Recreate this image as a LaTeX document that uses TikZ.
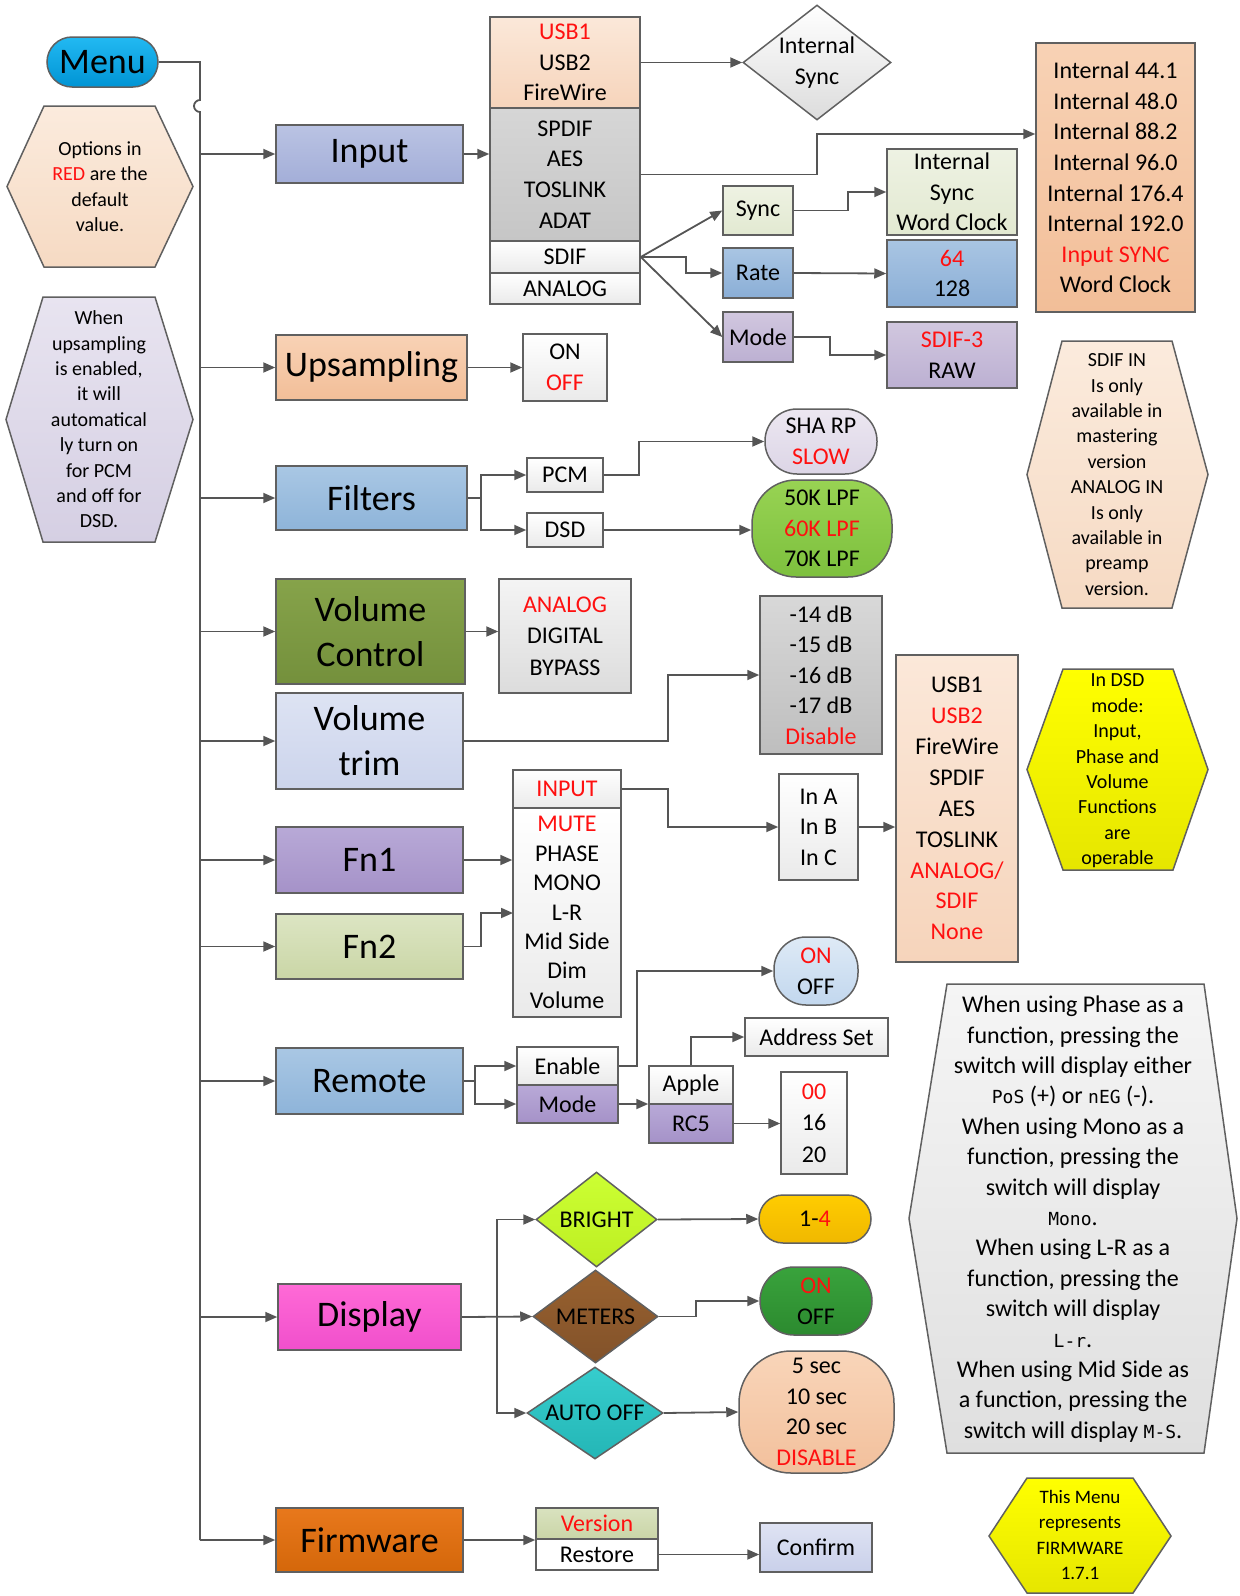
\documentclass[tikz,border=0pt]{standalone}
\usepackage{fontspec}
\setmainfont{Carlito}
\newfontfamily\segf{DejaVu Sans Mono}
\usetikzlibrary{fit,shapes.geometric,arrows.meta}
\definecolor{bordc}{HTML}{606060}
\definecolor{lc}{HTML}{555555}
\definecolor{redc}{HTML}{FF1010}
\definecolor{menuT}{HTML}{22B9F2}\definecolor{menuB}{HTML}{0094D4}
\definecolor{inT}{HTML}{BAC3E3}\definecolor{inB}{HTML}{A3AED8}
\definecolor{upT}{HTML}{F8D2B5}\definecolor{upB}{HTML}{F2BE98}
\definecolor{blT}{HTML}{A9C7E4}\definecolor{blB}{HTML}{8EB4D9}
\definecolor{vcT}{HTML}{86A34A}\definecolor{vcB}{HTML}{74903C}
\definecolor{vtT}{HTML}{DDE3F3}\definecolor{vtB}{HTML}{CCD4EC}
\definecolor{puT}{HTML}{B8A9D7}\definecolor{puB}{HTML}{A592C8}
\definecolor{olT}{HTML}{DCE5C3}\definecolor{olB}{HTML}{CAD6A6}
\definecolor{diT}{HTML}{FF6AD6}\definecolor{diB}{HTML}{F04FCC}
\definecolor{fwT}{HTML}{E8781C}\definecolor{fwB}{HTML}{D4670A}
\definecolor{pkT}{HTML}{FBE8D9}\definecolor{pkB}{HTML}{F6D4BB}
\definecolor{grT}{HTML}{D6D6D6}\definecolor{grB}{HTML}{C6C6C6}
\definecolor{whT}{HTML}{FFFFFF}\definecolor{whB}{HTML}{EAEAEA}
\definecolor{gnT}{HTML}{EEF2E3}\definecolor{gnB}{HTML}{E2E9D1}
\definecolor{rbT}{HTML}{A9C5E3}\definecolor{rbB}{HTML}{8AAED6}
\definecolor{mdT}{HTML}{D1C7DF}\definecolor{mdB}{HTML}{BCB0D2}
\definecolor{shT}{HTML}{ECE7F1}\definecolor{shB}{HTML}{DCD5E6}
\definecolor{lpT}{HTML}{98D353}\definecolor{lpB}{HTML}{7DC03E}
\definecolor{lgT}{HTML}{F4F4F4}\definecolor{lgB}{HTML}{DCDCDC}
\definecolor{dbT}{HTML}{D8D8D8}\definecolor{dbB}{HTML}{BEBEBE}
\definecolor{ywT}{HTML}{FFFF00}\definecolor{ywB}{HTML}{E6E600}
\definecolor{obT}{HTML}{DEEAF6}\definecolor{obB}{HTML}{C2D7EE}
\definecolor{brT}{HTML}{CCFF33}\definecolor{brB}{HTML}{BDEE22}
\definecolor{meT}{HTML}{98612F}\definecolor{meB}{HTML}{82522A}
\definecolor{auT}{HTML}{36CDCD}\definecolor{auB}{HTML}{24B6B6}
\definecolor{goT}{HTML}{FFCC00}\definecolor{goB}{HTML}{F0B800}
\definecolor{dgT}{HTML}{39A33C}\definecolor{dgB}{HTML}{2C8A2F}
\definecolor{pcT}{HTML}{F9D5B9}\definecolor{pcB}{HTML}{F2C09C}
\definecolor{vsT}{HTML}{D9E2BF}\definecolor{vsB}{HTML}{CAD5A7}
\definecolor{cfT}{HTML}{DFE3F3}\definecolor{cfB}{HTML}{C9D0EA}
\definecolor{ohT}{HTML}{FBEBDD}\definecolor{ohB}{HTML}{F6DAC3}
\definecolor{uhT}{HTML}{E8E4F0}\definecolor{uhB}{HTML}{D5CFE3}
\definecolor{ghT}{HTML}{F5F5F5}\definecolor{ghB}{HTML}{DFDFDF}
\newcommand\rtx[1]{\textcolor{redc}{#1}}
\newcommand\sego[1]{{\fontsize{9}{15.2}\selectfont\segf #1}}
% box node: #1 shape options, #2 name, #3 corner, #4 corner, #5 font style, #6 text
\newcommand\bxn[6]{\node[bx,fit={(#3)(#4)},#1] (#2) {};
  \node[txt,#5] (#2t) at (#2.center) {#6};}
\begin{document}
\begin{tikzpicture}[x=0.5pt,y=-0.5pt,
  bx/.style={draw=bordc, line width=0.75pt, inner sep=0pt},
  mainf/.style={font=\fontsize{18}{22.5}\selectfont},
  subf/.style={font=\fontsize{12}{15.3}\selectfont},
  notef/.style={font=\fontsize{10}{12.7}\selectfont},
  txt/.style={align=center, inner sep=0pt, text=black},
  sh/.style 2 args={top color=#1, bottom color=#2},
  conn/.style={draw=lc, line width=0.9pt},
  arr/.style={conn, -{Triangle[length=6pt,width=5pt]}},
  hexs/.style={draw=bordc, line width=0.75pt}
]
\useasboundingbox (0,0) rectangle (1239,1596);
% ---------- main column ----------
\bxn{rounded corners=12.5pt,sh={menuT}{menuB}}{menu}{47,37}{158,87}{mainf}{Menu}
\bxn{sh={inT}{inB}}{input}{276,125}{463,183}{mainf}{Input}
\bxn{sh={upT}{upB}}{upsamp}{276,335}{467,400}{mainf}{Upsampling}
\bxn{sh={blT}{blB}}{filters}{276,466}{467,530}{mainf}{Filters}
\bxn{sh={vcT}{vcB}}{volctl}{276,579}{465,684}{mainf}{Volume\\Control}
\bxn{sh={vtT}{vtB}}{voltrim}{276,693}{463,789}{mainf}{Volume\\trim}
\bxn{sh={puT}{puB}}{fn1}{276,827}{463,893}{mainf}{Fn1}
\bxn{sh={olT}{olB}}{fn2}{276,914}{463,979}{mainf}{Fn2}
\bxn{sh={blT}{blB}}{remote}{276,1048}{463,1114}{mainf}{Remote}
\bxn{sh={diT}{diB}}{display}{278,1284}{461,1350}{mainf}{Display}
\bxn{sh={fwT}{fwB}}{firmware}{276,1508}{463,1572}{mainf}{Firmware}
% ---------- left notes ----------
\draw[hexs,sh={ohT}{ohB}] (44,106) -- (155,106) -- (193,186.5) -- (155,267) -- (44,267) -- (7,186.5) -- cycle;
\node[txt,notef] (note1) at (100,186.5) {Options in\\\rtx{RED} are the\\default\\value.};
\draw[hexs,sh={uhT}{uhB}] (43,297) -- (155,297) -- (193,419.5) -- (155,542) -- (43,542) -- (6,419.5) -- cycle;
\node[txt,notef] (note2) at (99,419.5) {When\\upsampling\\is enabled,\\it will\\automatical\\ly turn on\\for PCM\\and off for\\DSD.};
% ---------- trunk ----------
\coordinate (trunk) at (200,62);
\draw[conn] (menu.east) -- (trunk) -- (200,100) arc[start angle=90,end angle=270,radius=3pt] -- (firmware.west -| trunk);
\draw[arr] (firmware.west -| trunk) -- (firmware.west);
\foreach \n in {input,upsamp,filters,volctl,voltrim,fn1,fn2,remote,display}
  \draw[arr] (\n.west -| trunk) -- (\n.west);
% ---------- input ----------
\bxn{sh={pkT}{pkB}}{ist1}{490,17}{640,108}{subf}{\rtx{USB1}\\USB2\\FireWire}
\bxn{sh={grT}{grB}}{ist2}{490,108}{640,241}{subf}{SPDIF\\AES\\TOSLINK\\ADAT}
\bxn{sh={whT}{whB}}{ist3}{490,241}{640,273}{subf}{SDIF}
\bxn{sh={whT}{whB}}{ist4}{490,273}{640,304}{subf}{ANALOG}
\node[bx,diamond,minimum width=74pt,minimum height=57.5pt,sh={whT}{lgB}] (isync) at (817,62.5) {};
\node[txt,subf] (isynct) at (isync.center) {Internal\\Sync};
\bxn{sh={upT}{upB}}{rates}{1036,43}{1195,312}{subf}{Internal 44.1\\Internal 48.0\\Internal 88.2\\Internal 96.0\\Internal 176.4\\Internal 192.0\\\rtx{Input SYNC}\\Word Clock}
\bxn{sh={gnT}{gnB}}{sync}{723,186}{793,235}{subf}{Sync}
\bxn{sh={rbT}{rbB}}{rate}{723,248}{793,298}{subf}{Rate}
\bxn{sh={mdT}{mdB}}{mode}{723,312}{793,362}{subf}{Mode}
\bxn{sh={gnT}{gnB}}{iswc}{887,149}{1017,235}{subf}{Internal\\Sync\\Word Clock}
\bxn{sh={rbT}{rbB}}{r64}{887,240}{1017,307}{subf}{\rtx{64}\\128}
\bxn{sh={mdT}{mdB}}{sdif3}{887,322}{1017,388}{subf}{\rtx{SDIF-3}\\RAW}
\draw[arr] (input.east) -- (input.east -| ist2.west);
\draw[arr] (ist1.east) -- (isync.west);
\coordinate (c1) at (817,134);
\draw[arr] (ist2.east) -| (c1) -- (c1 -| rates.west);
\draw[arr] (ist3.east) -- (sync.west);
\draw[arr] (ist3.east) -- (686,257) |- (rate.west);
\draw[arr] (ist3.east) -- (mode.west);
\draw[arr] (sync.east) -- (848,210.5) |- (iswc.west);
\draw[arr] (rate.east) -- (r64.west);
\draw[arr] (mode.east) -- (830,337) |- (sdif3.west);
% ---------- upsampling / filters ----------
\bxn{sh={whT}{whB}}{onoff1}{523,334}{607,401}{subf}{ON\\\rtx{OFF}}
\draw[arr] (upsamp.east) -- (onoff1.west);
\bxn{sh={whT}{whB}}{pcm}{527,458}{603,492}{subf}{PCM}
\bxn{sh={whT}{whB}}{dsd}{527,513}{603,547}{subf}{DSD}
\bxn{rounded corners=16pt,sh={shT}{shB}}{sha}{765,409}{877,474}{subf}{SHA RP\\\rtx{SLOW}}
\bxn{rounded corners=22pt,sh={lpT}{lpB}}{lpf}{752,480}{892,577}{subf}{50K LPF\\\rtx{60K LPF}\\70K LPF}
\coordinate (fsplit) at (481,498);
\draw[conn] (filters.east) -- (fsplit);
\draw[arr] (fsplit) |- (pcm.west);
\draw[arr] (fsplit) |- (dsd.west);
\draw[arr] (pcm.east) -- (639,475) |- (sha.west);
\draw[arr] (dsd.east) -- (dsd.east -| lpf.west);
% ---------- SDIF note ----------
\draw[hexs,sh={ohT}{ohB}] (1062,341) -- (1172,341) -- (1208,474.5) -- (1172,608) -- (1062,608) -- (1027,474.5) -- cycle;
\node[txt,notef] (note3) at (1117,474.5) {SDIF IN\\Is only\\available in\\mastering\\version\\ANALOG IN\\Is only\\available in\\preamp\\version.};
% ---------- volume ----------
\bxn{sh={lgT}{lgB}}{vcopts}{499,579}{631,693}{font=\fontsize{12}{15.7}\selectfont}{\rtx{ANALOG}\\DIGITAL\\BYPASS}
\bxn{sh={dbT}{dbB}}{db}{760,596}{882,754}{subf}{-14 dB\\-15 dB\\-16 dB\\-17 dB\\\rtx{Disable}}
\draw[arr] (volctl.east) -- (volctl.east -| vcopts.west);
\draw[arr] (voltrim.east) -- (668,741) |- (db.west);
% ---------- Fn ----------
\bxn{sh={whT}{whB}}{finput}{513,770}{621,808}{subf}{\rtx{INPUT}}
\bxn{sh={whT}{whB}}{fmain}{513,808}{621,1017}{font=\fontsize{12}{14.7}\selectfont}{\rtx{MUTE}\\PHASE\\MONO\\L-R\\Mid Side\\Dim\\Volume}
\bxn{sh={whT}{whB}}{inabc}{779,774}{858,880}{subf}{In A\\In B\\In C}
\bxn{sh={pkT}{pkB}}{usblist}{896,655}{1018,962}{font=\fontsize{12}{15.45}\selectfont}{USB1\\\rtx{USB2}\\FireWire\\SPDIF\\AES\\TOSLINK\\\rtx{ANALOG/}\\\rtx{SDIF}\\\rtx{None}}
\coordinate (fn2in) at (513,913);
\draw[arr] (fn1.east) -- (fn1.east -| fmain.west);
\draw[arr] (fn2.east) -- (481,946.5) |- (fn2in);
\draw[arr] (finput.east) -- (668,789) |- (inabc.west);
\draw[arr] (inabc.east) -- (inabc.east -| usblist.west);
\draw[hexs,sh={ywT}{ywB}] (1063,669) -- (1173,669) -- (1208,769.5) -- (1173,870) -- (1063,870) -- (1027,769.5) -- cycle;
\node[txt,notef] (note4) at (1117.5,771) {In DSD\\mode:\\Input,\\Phase and\\Volume\\Functions\\are\\operable};
% ---------- remote ----------
\bxn{sh={whT}{whB}}{enable}{517,1047}{618,1085}{subf}{Enable}
\bxn{sh={puT}{puB}}{rmode}{517,1085}{618,1123}{subf}{Mode}
\bxn{rounded corners=16pt,sh={obT}{obB}}{onoff2}{774,937}{858,1005}{subf}{\rtx{ON}\\OFF}
\bxn{sh={whT}{whB}}{apple}{649,1066}{733,1104}{subf}{Apple}
\bxn{sh={puT}{puB}}{rc5}{649,1104}{733,1143}{subf}{RC5}
\bxn{sh={whT}{whB}}{address}{745,1018}{888,1056}{subf}{Address Set}
\bxn{sh={whT}{whB}}{n00}{781,1072}{847,1174}{font=\fontsize{12}{15.7}\selectfont}{\rtx{00}\\16\\20}
\coordinate (rsplit) at (475,1081);
\draw[conn] (remote.east) -- (rsplit);
\draw[arr] (rsplit) |- (enable.west);
\draw[arr] (rsplit) |- (rmode.west);
\draw[arr] (enable.east) -- (637,1066) |- (onoff2.west);
\draw[arr] (rmode.east) -- (rmode.east -| apple.west);
\draw[arr] (apple.north) |- (address.west);
\draw[arr] (rc5.east) -- (rc5.east -| n00.west);
% ---------- display ----------
\node[bx,diamond,minimum width=60.5pt,minimum height=47.5pt,sh={brT}{brB}] (bright) at (596.5,1219.5) {};
\node[txt,subf] (brightt) at (bright.center) {BRIGHT};
\node[bx,diamond,minimum width=62.5pt,minimum height=46.5pt,sh={meT}{meB}] (meters) at (595.5,1316.5) {};
\node[txt,subf] (meterst) at (meters.center) {METERS};
\node[bx,diamond,minimum width=68pt,minimum height=46pt,sh={auT}{auB}] (autooff) at (595,1413) {};
\node[txt,subf] (autofft) at (autooff.center) {AUTO OFF};
\bxn{rounded corners=12pt,sh={goT}{goB}}{p14}{759,1195}{871,1243}{subf}{1-\rtx{4}}
\bxn{rounded corners=17pt,sh={dgT}{dgB}}{onoff3}{760,1267}{872,1335}{subf}{\rtx{ON}\\OFF}
\bxn{rounded corners=26pt,sh={pcT}{pcB}}{secs}{739,1351}{894,1473}{subf}{5 sec\\10 sec\\20 sec\\\rtx{DISABLE}}
\coordinate (dsplit) at (497,1317);
\draw[arr] (display.east) -- (meters.west);
\draw[arr] (dsplit) |- (bright.west);
\draw[arr] (dsplit) |- (autooff.west);
\draw[arr] (bright.east) -- (p14.west);
\draw[arr] (meters.east) -- (696,1316.5) |- (onoff3.west);
\draw[arr] (autooff.east) -- (secs.west);
% ---------- big note ----------
\draw[hexs,sh={ghT}{ghB}] (947,984) -- (1204,984) -- (1237,1218.5) -- (1204,1453) -- (947,1453) -- (909,1218.5) -- cycle;
\node[txt,font=\fontsize{12}{15.2}\selectfont] (note5) at (1073,1219) {When using Phase as a\\function, pressing the\\switch will display either\\\sego{PoS} (+) or \sego{nEG} (-).\\When using Mono as a\\function, pressing the\\switch will display\\\sego{Mono}.\\When using L-R as a\\function, pressing the\\switch will display\\\sego{L-r}.\\When using Mid Side as\\a function, pressing the\\switch will display \sego{M-S}.};
% ---------- firmware ----------
\bxn{sh={vsT}{vsB}}{version}{536,1508}{658,1539}{subf}{\rtx{Version}}
\bxn{fill=white}{restore}{536,1539}{658,1570}{subf}{Restore}
\bxn{sh={cfT}{cfB}}{confirm}{760,1523}{872,1572}{subf}{Confirm}
\draw[arr] (firmware.east) -- (firmware.east -| version.west);
\draw[arr] (restore.east) -- (restore.east -| confirm.west);
\draw[hexs,sh={ywT}{ywB}] (1027,1478) -- (1133,1478) -- (1171,1536) -- (1133,1593) -- (1027,1593) -- (989,1536) -- cycle;
\node[txt,font=\fontsize{9.5}{12.7}\selectfont] (note6) at (1080,1535) {This Menu\\represents\\FIRMWARE\\1.7.1};
\end{tikzpicture}
\end{document}
